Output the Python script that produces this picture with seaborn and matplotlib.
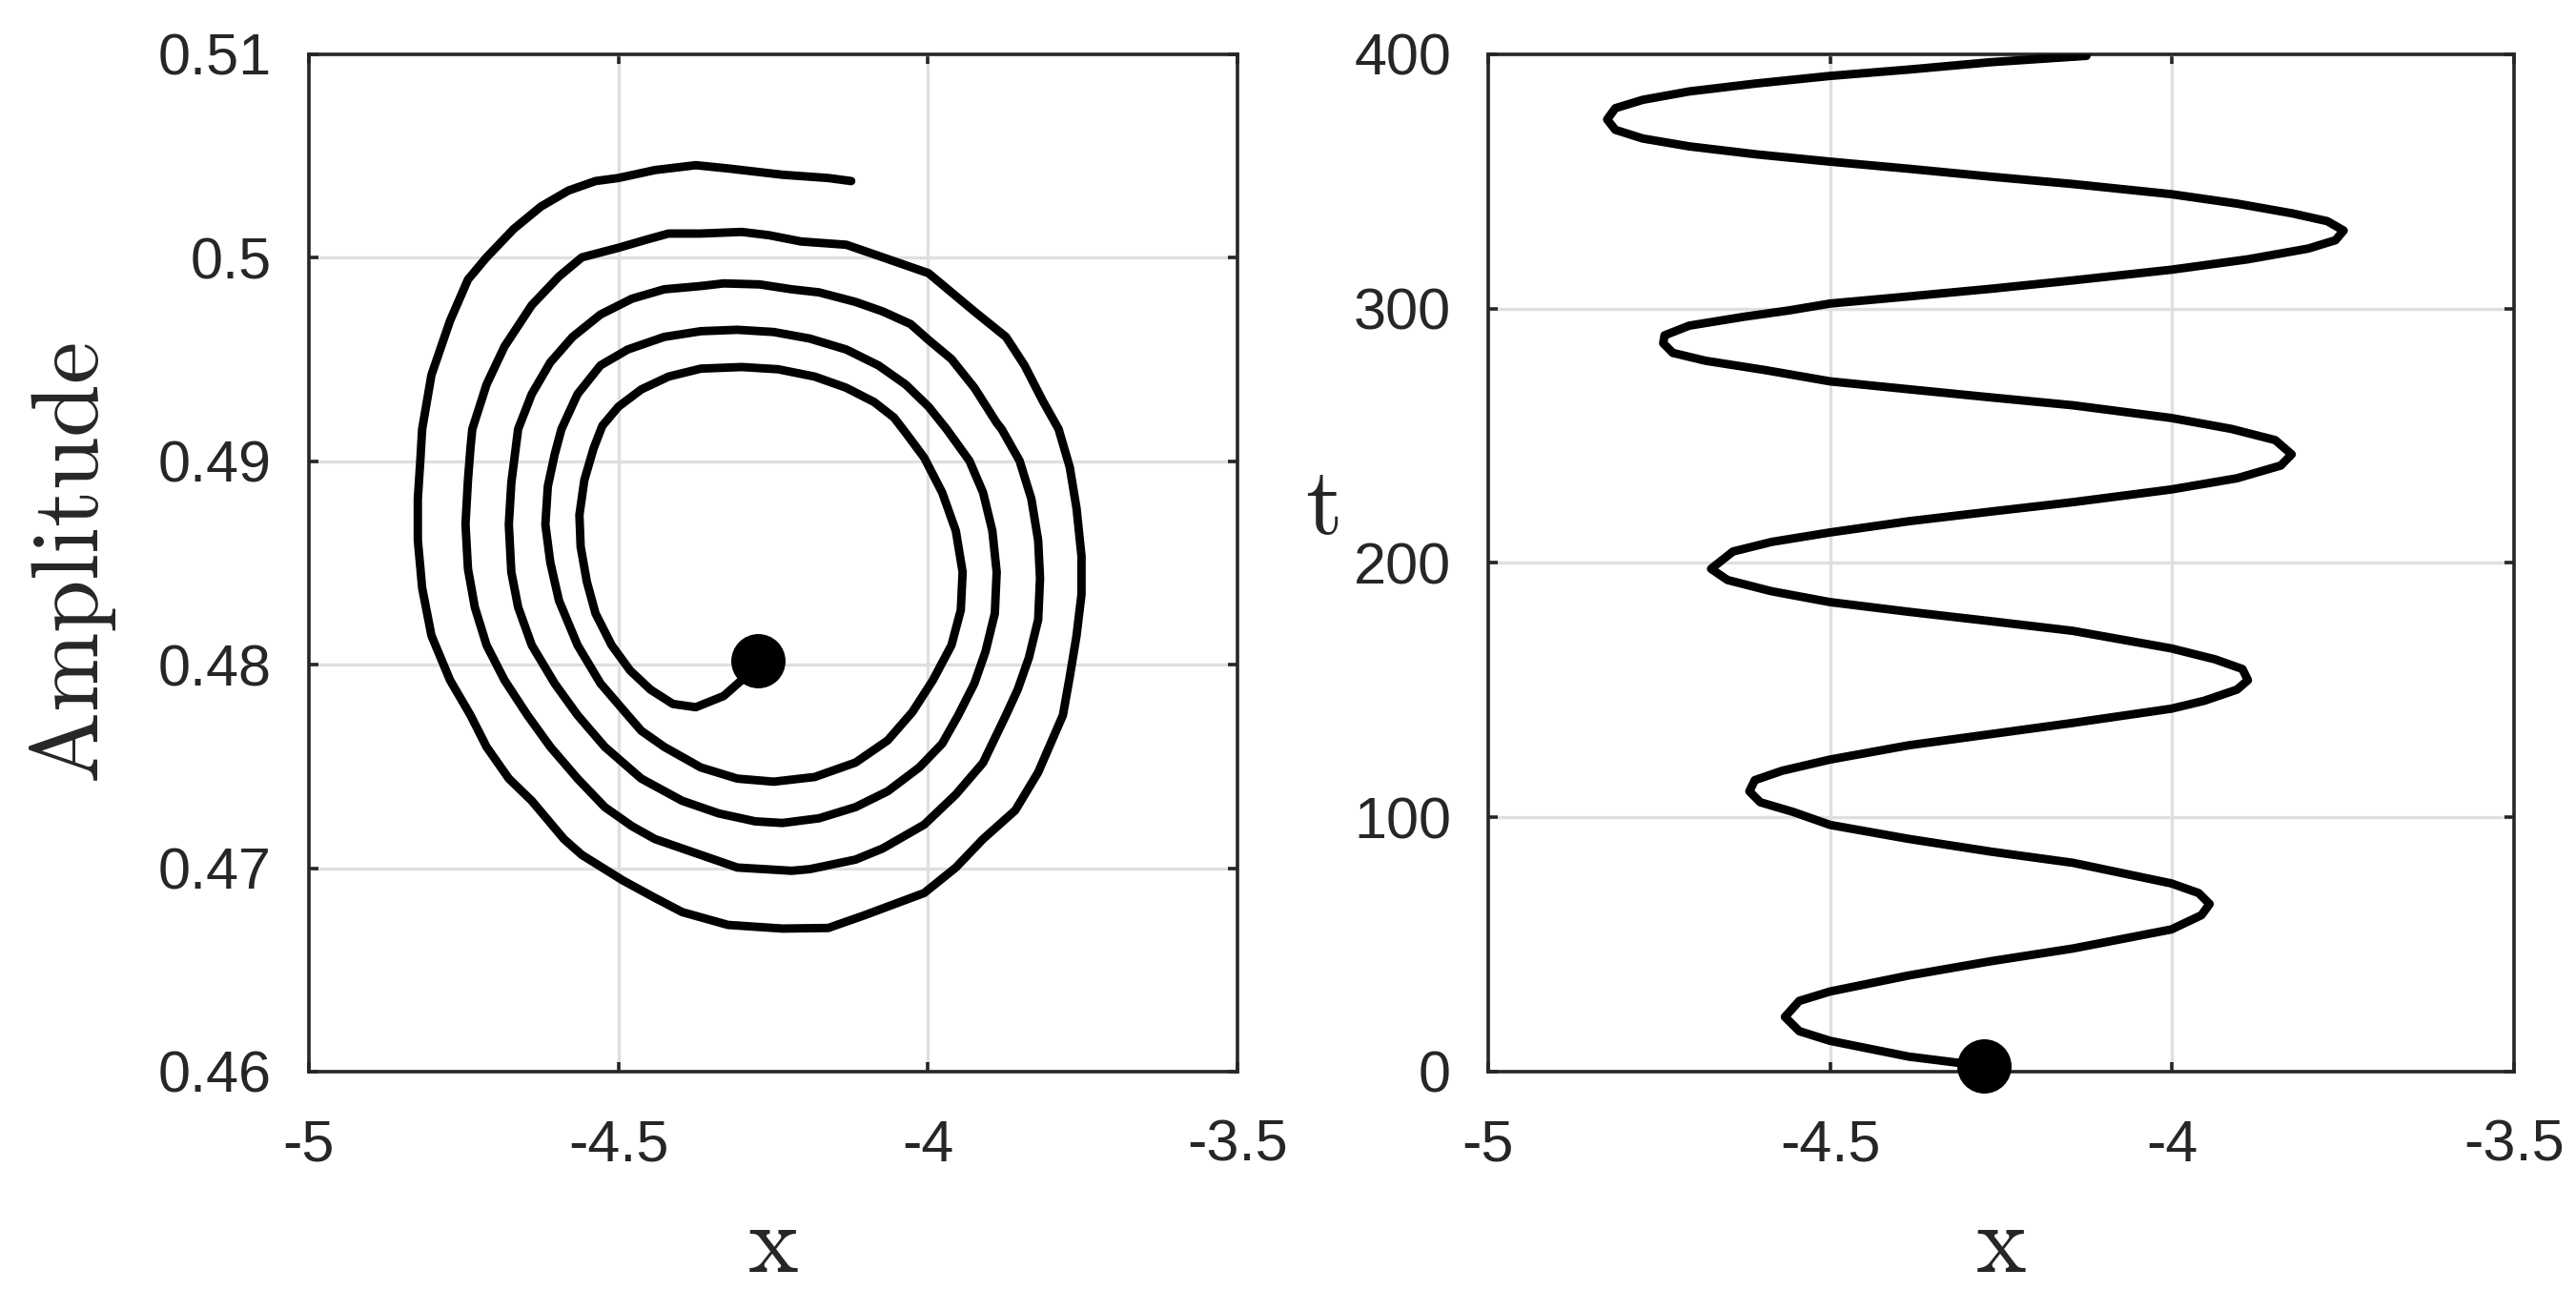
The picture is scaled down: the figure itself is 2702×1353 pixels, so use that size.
import numpy as np
import pandas as pd
import matplotlib
matplotlib.use("Agg")
import matplotlib.pyplot as plt
import seaborn as sns

# left panel: trajectory in the (x, amplitude) plane
spiral_x = [-4.275, -4.301, -4.330, -4.375, -4.412, -4.448, -4.481, -4.511, -4.537, -4.551,
            -4.561, -4.563, -4.555, -4.540,
            -4.526, -4.500, -4.463, -4.419, -4.367, -4.301, -4.242, -4.183, -4.132, -4.087, -4.055,
            -4.036, -4.006, -3.977, -3.955, -3.944, -3.947, -3.962, -3.992, -4.025,
            -4.065, -4.117, -4.183, -4.249, -4.308, -4.367, -4.426, -4.463,
            -4.485, -4.529, -4.566, -4.596, -4.610, -4.618, -4.614, -4.603,
            -4.592, -4.566, -4.529, -4.485, -4.426, -4.367, -4.308, -4.249, -4.191, -4.132, -4.080,
            -4.036, -3.999,
            -3.970, -3.933, -3.911, -3.896, -3.889, -3.892, -3.907, -3.925, -3.951,
            -3.977, -4.014, -4.065, -4.117, -4.176, -4.235, -4.279, -4.338, -4.397, -4.463, -4.522,
            -4.566, -4.603, -4.640, -4.662, -4.673, -4.677, -4.673, -4.666,
            -4.662, -4.640, -4.610, -4.574, -4.529, -4.478, -4.426, -4.367, -4.330, -4.272, -4.220,
            -4.176, -4.117, -4.073, -4.028, -3.999, -3.962, -3.925, -3.889,
            -3.881, -3.852, -3.833, -3.822, -3.819, -3.822, -3.837, -3.855, -3.874,
            -3.911, -3.955, -4.006, -4.073, -4.117, -4.191, -4.220, -4.308, -4.367, -4.441, -4.478,
            -4.522, -4.566, -4.610,
            -4.647, -4.684, -4.713, -4.732, -4.743, -4.747, -4.743, -4.739,
            -4.736, -4.713, -4.684, -4.640, -4.596, -4.559, -4.500, -4.456, -4.419, -4.367, -4.301,
            -4.257, -4.205, -4.132, -4.087, -4.036, -3.999, -3.962, -3.925, -3.874, -3.844, -3.815,
            -3.789, -3.771, -3.760, -3.752, -3.752, -3.760, -3.771, -3.782,
            -3.822, -3.859, -3.911, -3.955, -4.006, -4.102, -4.161, -4.235, -4.323, -4.397, -4.441,
            -4.493, -4.559, -4.588, -4.640, -4.677, -4.713,
            -4.739, -4.772, -4.802, -4.817, -4.824, -4.824, -4.820,
            -4.817, -4.802, -4.772, -4.743, -4.713, -4.669, -4.625, -4.581, -4.537, -4.500, -4.441,
            -4.375, -4.323, -4.235, -4.161, -4.124]
spiral_amp = [0.48018, 0.47924, 0.47846, 0.47791, 0.47807, 0.47877, 0.47971, 0.48096, 0.48252, 0.48408,
              0.48580, 0.48736, 0.48908, 0.49064,
              0.49174, 0.49268, 0.49353, 0.49416, 0.49455, 0.49463, 0.49452, 0.49416, 0.49361, 0.49291,
              0.49215,
              0.49140, 0.49017, 0.48846, 0.48658, 0.48455, 0.48268, 0.48096, 0.47924, 0.47768,
              0.47628, 0.47519, 0.47448, 0.47425, 0.47440, 0.47495, 0.47596, 0.47675,
              0.47752, 0.47908, 0.48096, 0.48315, 0.48502, 0.48689, 0.48877, 0.49033,
              0.49158, 0.49330, 0.49471, 0.49549, 0.49611, 0.49639, 0.49646, 0.49635, 0.49603, 0.49549,
              0.49471, 0.49377, 0.49268,
              0.49158, 0.49002, 0.48846, 0.48658, 0.48455, 0.48252, 0.48065, 0.47908, 0.47752,
              0.47612, 0.47495, 0.47378, 0.47300, 0.47245, 0.47222, 0.47230, 0.47269, 0.47331, 0.47440,
              0.47596,
              0.47752, 0.47908, 0.48096, 0.48283, 0.48455, 0.48689, 0.48893, 0.49064,
              0.49158, 0.49330, 0.49486, 0.49611, 0.49721, 0.49799, 0.49845, 0.49861, 0.49874, 0.49869,
              0.49845, 0.49830, 0.49783, 0.49736, 0.49674, 0.49596, 0.49502, 0.49361, 0.49189,
              0.49158, 0.49002, 0.48815, 0.48611, 0.48424, 0.48221, 0.48034, 0.47878, 0.47752,
              0.47518, 0.47362, 0.47214, 0.47097, 0.47042, 0.46995, 0.46987, 0.47003, 0.47065, 0.47143,
              0.47206, 0.47300, 0.47440, 0.47596,
              0.47752, 0.47924, 0.48096, 0.48283, 0.48471, 0.48690, 0.48908, 0.49064,
              0.49158, 0.49377, 0.49564, 0.49767, 0.49908, 0.50002, 0.50049, 0.50088, 0.50119, 0.50119,
              0.50127, 0.50111, 0.50080, 0.50064, 0.50017, 0.49963, 0.49924, 0.49830, 0.49736, 0.49611,
              0.49471, 0.49299,
              0.49158, 0.48971, 0.48768, 0.48533, 0.48346, 0.48143, 0.47940, 0.47752,
              0.47471, 0.47284, 0.47143, 0.47003, 0.46878, 0.46769, 0.46706, 0.46703, 0.46721, 0.46784,
              0.46854, 0.46940, 0.47065, 0.47143, 0.47331, 0.47440, 0.47596,
              0.47752, 0.47924, 0.48143, 0.48377, 0.48612, 0.48815, 0.49002,
              0.49158, 0.49424, 0.49690, 0.49893, 0.50002, 0.50142, 0.50252, 0.50330, 0.50377, 0.50392,
              0.50431, 0.50455, 0.50439, 0.50408, 0.50392, 0.50377]

# right panel: x against time t
time_t = [2.2, 5.9, 12.1, 15.9, 21.5, 27.8, 31.5, 37.8, 43.4, 48.4, 55.9, 61.5, 65.9, 70.2, 74.0,
          82.1, 86.5, 91.5, 97.0, 102.1, 105.9, 110.2, 114.6, 118.3, 122.7, 128.3, 132.7, 137.1,
          142.7, 145.8, 150.2, 153.9, 158.3, 162.1, 166.4, 173.3, 177.1, 180.8, 184.6, 188.9,
          193.3, 197.7, 204.5, 208.3, 212.0, 216.4, 220.2, 223.9, 228.9, 233.3, 238.3, 242.7,
          248.3, 252.7, 257.0, 262.0, 265.1, 268.3, 271.4, 275.8, 279.5, 282.6, 286.4, 289.5,
          293.3, 296.8, 299.3, 302.0, 304.8, 307.8, 311.1, 315.3, 319.4, 323.6, 326.9, 330.7,
          334.4, 337.5, 341.3, 345.0, 349.0, 351.9, 355.0, 357.8, 360.7, 363.8, 366.9, 370.3,
          374.4, 378.8, 382.1, 385.4, 388.5, 391.5, 394.0, 396.9, 399.4]
time_x = [-4.275, -4.385, -4.500, -4.545, -4.566, -4.545, -4.500, -4.385, -4.265, -4.145, -4.001,
          -3.957, -3.945, -3.961, -4.001, -4.145, -4.265, -4.385, -4.500, -4.554, -4.602, -4.618,
          -4.610, -4.570, -4.500, -4.385, -4.265, -4.145, -4.001, -3.953, -3.905, -3.889, -3.897,
          -3.937, -4.001, -4.145, -4.265, -4.385, -4.500, -4.586, -4.650, -4.674, -4.642, -4.585,
          -4.500, -4.385, -4.265, -4.145, -4.001, -3.905, -3.841, -3.825, -3.849, -3.913, -4.001,
          -4.145, -4.265, -4.385, -4.500, -4.594, -4.682, -4.730, -4.744, -4.742, -4.706, -4.626,
          -4.560, -4.500, -4.385, -4.265, -4.145, -4.001, -3.889, -3.801, -3.761, -3.749, -3.773,
          -3.825, -3.905, -4.001, -4.145, -4.265, -4.385, -4.500, -4.609, -4.706, -4.774, -4.814,
          -4.826, -4.814, -4.774, -4.706, -4.609, -4.500, -4.385, -4.265, -4.125]

x_ticks = [-5, -4.5, -4, -3.5]
x_ticklabels = ['-5', '-4.5', '-4', '-3.5']
amp_ticks = [0.46, 0.47, 0.48, 0.49, 0.5, 0.51]
amp_ticklabels = ['0.46', '0.47', '0.48', '0.49', '0.5', '0.51']
t_ticks = [0, 100, 200, 300, 400]

sns.set_style("ticks")
plt.rcParams['font.family'] = ['Liberation Sans', 'DejaVu Sans']
plt.rcParams['mathtext.fontset'] = 'cm'

dark = '#262626'
grid_c = '#dfdfdf'

fig = plt.figure(figsize=(13.51, 6.765), dpi=200)
ax1 = fig.add_axes([0.1199, 0.1693, 0.3605, 0.7886])
ax2 = fig.add_axes([0.5777, 0.1693, 0.3982, 0.7886])

df_l = pd.DataFrame({'x': spiral_x, 'amp': spiral_amp})
df_r = pd.DataFrame({'x': time_x, 't': time_t})

sns.lineplot(data=df_l, x='x', y='amp', sort=False, estimator=None, color='black', lw=3.2, ax=ax1, zorder=3)
sns.scatterplot(x=[spiral_x[0]], y=[spiral_amp[0]], color='black', s=420, linewidth=0, ax=ax1, zorder=4, clip_on=False)

sns.lineplot(data=df_r, x='x', y='t', sort=False, estimator=None, orient='y', color='black', lw=3.2, ax=ax2, zorder=3)
sns.scatterplot(x=[time_x[0]], y=[time_t[0]], color='black', s=420, linewidth=0, ax=ax2, zorder=4, clip_on=False)

for ax in (ax1, ax2):
    ax.set_xlim(-5, -3.5)
    ax.set_xticks(x_ticks)
    ax.set_xticklabels(x_ticklabels)
    ax.grid(True, color=grid_c, lw=1.2)
    ax.set_axisbelow(True)
    ax.tick_params(direction='in', length=3.6, width=1.3, color=dark, labelcolor=dark,
                   labelsize=22, top=True, right=True)
    ax.tick_params(axis='x', pad=18)
    ax.tick_params(axis='y', pad=14)
    for s in ax.spines.values():
        s.set_color(dark)
        s.set_linewidth(1.3)
    ax.set_xlabel(r'$\mathrm{x}$', fontsize=36, color=dark)
    ax.xaxis.set_label_coords(0.5, -0.128)

ax1.set_ylim(0.46, 0.51)
ax1.set_yticks(amp_ticks)
ax1.set_yticklabels(amp_ticklabels)
ax1.set_ylabel(r'$\mathrm{Amplitude}$', fontsize=36, color=dark)
ax1.yaxis.set_label_coords(-0.205, 0.5)

ax2.set_ylim(0, 400)
ax2.set_yticks(t_ticks)
ax2.set_ylabel(r'$\mathrm{t}$', fontsize=36, color=dark, rotation=0, ha='center', va='center')
ax2.yaxis.set_label_coords(-0.162, 0.553)

fig.savefig('out.png', dpi=200)
